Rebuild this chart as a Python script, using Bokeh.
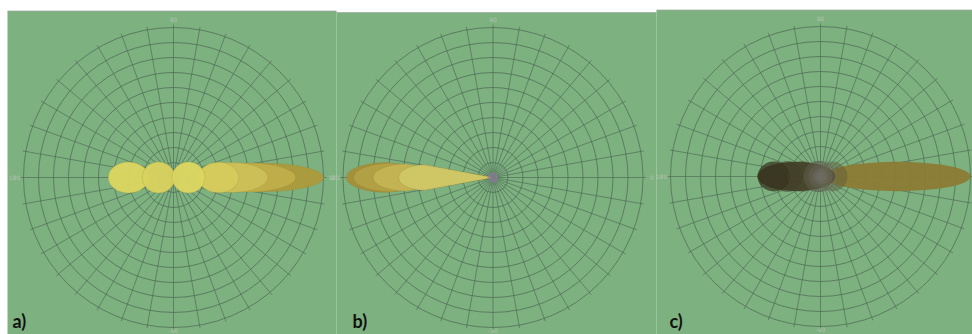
import numpy as np
from bokeh.plotting import figure
from bokeh.models import Range1d
from bokeh.core.properties import value
from bokeh.embed import file_html
from bokeh.resources import INLINE

# ---------------- data ----------------
ring_radii = [1, 2, 3, 4, 5, 6, 7, 8, 9, 10]
spoke_angles = list(range(0, 360, 10))
panel_labels = ["a)", "b)", "c)"]
# axis labels shown in each panel (text, angle in degrees)
a_axis_text = ["0", "90", "180", "-90"]
a_axis_angle = [0, 90, 180, 270]
b_axis_text = ["0", "90", "180", "-90"]
b_axis_angle = [0, 90, 180, 270]
c_axis_text = ["90", "180", "-90"]
c_axis_angle = [90, 180, 270]

# panel a: lobes along the 0-180 axis (back to front)
a_center = [6.0, 4.9, 3.9, 3.0, -3.0, -1.0, 1.0]
a_halfwidth = [4.0, 3.25, 2.4, 1.35, 1.35, 1.1, 1.1]
a_halfheight = [0.95, 0.97, 1.0, 1.02, 1.03, 1.03, 1.03]
a_color = ["#ad9a3c", "#bfae4a", "#ccc057", "#d4cb5d", "#dbd561", "#d8d15e", "#dcd662"]

# panel b: teardrop lobes pointing to 180 degrees (back to front)
b_length = [9.8, 9.3, 8.0, 6.3]
b_halfheight = [1.0, 0.95, 0.9, 0.85]
b_color = ["#a39038", "#b3a144", "#c3b454", "#d0c766"]

# panel c: forward lobe plus dark backward lobes (back to front)
c_fwd_center = [5.1]
c_fwd_halfwidth = [4.9]
c_fwd_halfheight = [0.98]
c_fwd_color = ["#8a7c36"]
c_back_center = [-1.6, -3.1, -2.2, -1.2, -0.2, 0.8]
c_back_halfwidth = [2.6, 1.1, 1.0, 1.0, 1.0, 1.0]
c_back_halfheight = [0.98, 1.0, 1.03, 1.02, 1.03, 1.0]
c_back_color = ["#3e3a23", "#34301c", "#3e3a23", "#48432a", "#524d32", "#5e593a"]
c_back_alpha = [0.85, 0.7, 0.45, 0.45, 0.45, 0.45]
c_glow_radius = [1.1, 0.8, 0.55, 0.35]

# ---------------- layout (pixels) ----------------
W, H = 972, 334
PX = 15.0  # pixels per radial unit
BG = "#7db180"
GRID = "#4d6853"
panels = [
    dict(x0=7, x1=336, top=10.5, cx=173.0, cy=177.0, lx=12),
    dict(x0=336, x1=656, top=12.0, cx=492.5, cy=177.0, lx=352),
    dict(x0=656, x1=972, top=9.5, cx=820.0, cy=176.0, lx=669),
]

p = figure(width=W, height=H, output_backend="svg", toolbar_location=None,
           x_axis_location=None, y_axis_location=None,
           min_border_left=0, min_border_right=0, min_border_bottom=0, min_border_top=0,
           background_fill_color="white", border_fill_color="white", outline_line_color=None)
p.x_range = Range1d(0, W / PX)
p.y_range = Range1d(-H / PX, 0)
p.xgrid.visible = False
p.ygrid.visible = False

# green panel backgrounds
p.quad(left=[s["x0"] / PX for s in panels], right=[s["x1"] / PX for s in panels],
       top=[-s["top"] / PX for s in panels], bottom=[-H / PX] * 3,
       fill_color=BG, line_color=None)
p.segment(x0=[s["x0"] / PX for s in panels], x1=[s["x1"] / PX for s in panels],
          y0=[-s["top"] / PX for s in panels], y1=[-s["top"] / PX for s in panels],
          line_color="#9aa89c", line_width=1, line_alpha=0.7)


def origin(s):
    return s["cx"] / PX, -s["cy"] / PX


def polar_grid(s, texts, angles):
    ox, oy = origin(s)
    ang = np.radians(spoke_angles)
    rmax = max(ring_radii)
    p.segment(x0=ox, y0=oy, x1=ox + (rmax + 0.2) * np.cos(ang), y1=oy + (rmax + 0.2) * np.sin(ang),
              line_color=GRID, line_width=0.9, line_alpha=0.72)
    p.circle(x=[ox] * len(ring_radii), y=[oy] * len(ring_radii), radius=ring_radii,
             fill_color=None, line_color=GRID, line_width=1.0, line_alpha=0.72)
    la = np.radians(angles)
    rr = np.where(np.isclose(np.sin(la), -1), rmax + 0.2,
                  np.where(np.isclose(np.sin(la), 1), rmax + 0.55, rmax + 0.6))
    p.text(x=ox + rr * np.cos(la), y=oy + rr * np.sin(la), text=texts,
           text_font_size="6px", text_color="#b4c2b4", text_align="center",
           text_baseline="middle", text_font=value("DejaVu Sans"))


def teardrop(ox, oy, length, hh, direction, n=80):
    s0 = 0.72
    s = np.linspace(0, 1, n)
    half = np.where(s < s0, s / s0,
                    np.sqrt(np.clip(1 - ((s - s0) / (1 - s0)) ** 2, 0, 1)))
    xs = ox + np.concatenate([s, s[::-1]]) * length * direction
    ys = oy + np.concatenate([half, -half[::-1]]) * hh
    return list(xs), list(ys)


polar_grid(panels[0], a_axis_text, a_axis_angle)
polar_grid(panels[1], b_axis_text, b_axis_angle)
polar_grid(panels[2], c_axis_text, c_axis_angle)

# panel a
ox, oy = origin(panels[0])
p.ellipse(x=[ox + v for v in a_center], y=[oy] * len(a_center),
          width=[2 * v for v in a_halfwidth], height=[2 * v for v in a_halfheight],
          fill_color=a_color, fill_alpha=0.96,
          line_color="#9c8c3a", line_alpha=0.3, line_width=0.8)

# panel b
ox, oy = origin(panels[1])
for L, hh, col in zip(b_length, b_halfheight, b_color):
    xs, ys = teardrop(ox, oy, L, hh, -1)
    p.patch(xs, ys, fill_color=col, fill_alpha=0.97, line_color="#8f7f35",
            line_alpha=0.3, line_width=0.8)
p.circle(x=[ox], y=[oy], radius=[0.35], fill_color="#8b7f98", fill_alpha=0.75, line_color=None)

# panel c
ox, oy = origin(panels[2])
p.ellipse(x=[ox + v for v in c_fwd_center], y=[oy], width=[2 * v for v in c_fwd_halfwidth],
          height=[2 * v for v in c_fwd_halfheight], fill_color=c_fwd_color,
          fill_alpha=0.97, line_color=None)
p.ellipse(x=[ox + v for v in c_back_center], y=[oy] * len(c_back_center),
          width=[2 * v for v in c_back_halfwidth], height=[2 * v for v in c_back_halfheight],
          fill_color=c_back_color, fill_alpha=c_back_alpha, line_color=None)
p.circle(x=[ox] * len(c_glow_radius), y=[oy] * len(c_glow_radius), radius=c_glow_radius,
         fill_color="#8a8a8c", fill_alpha=0.16, line_color=None)

# panel letters
p.text(x=[s["lx"] / PX for s in panels], y=[-331 / PX] * 3, text=panel_labels,
       text_font_size="18px", text_font_style="bold", text_color="#111111",
       text_font=value("Lato"), text_baseline="bottom", text_align="left")

open("out.html", "w").write(file_html(p, INLINE))
